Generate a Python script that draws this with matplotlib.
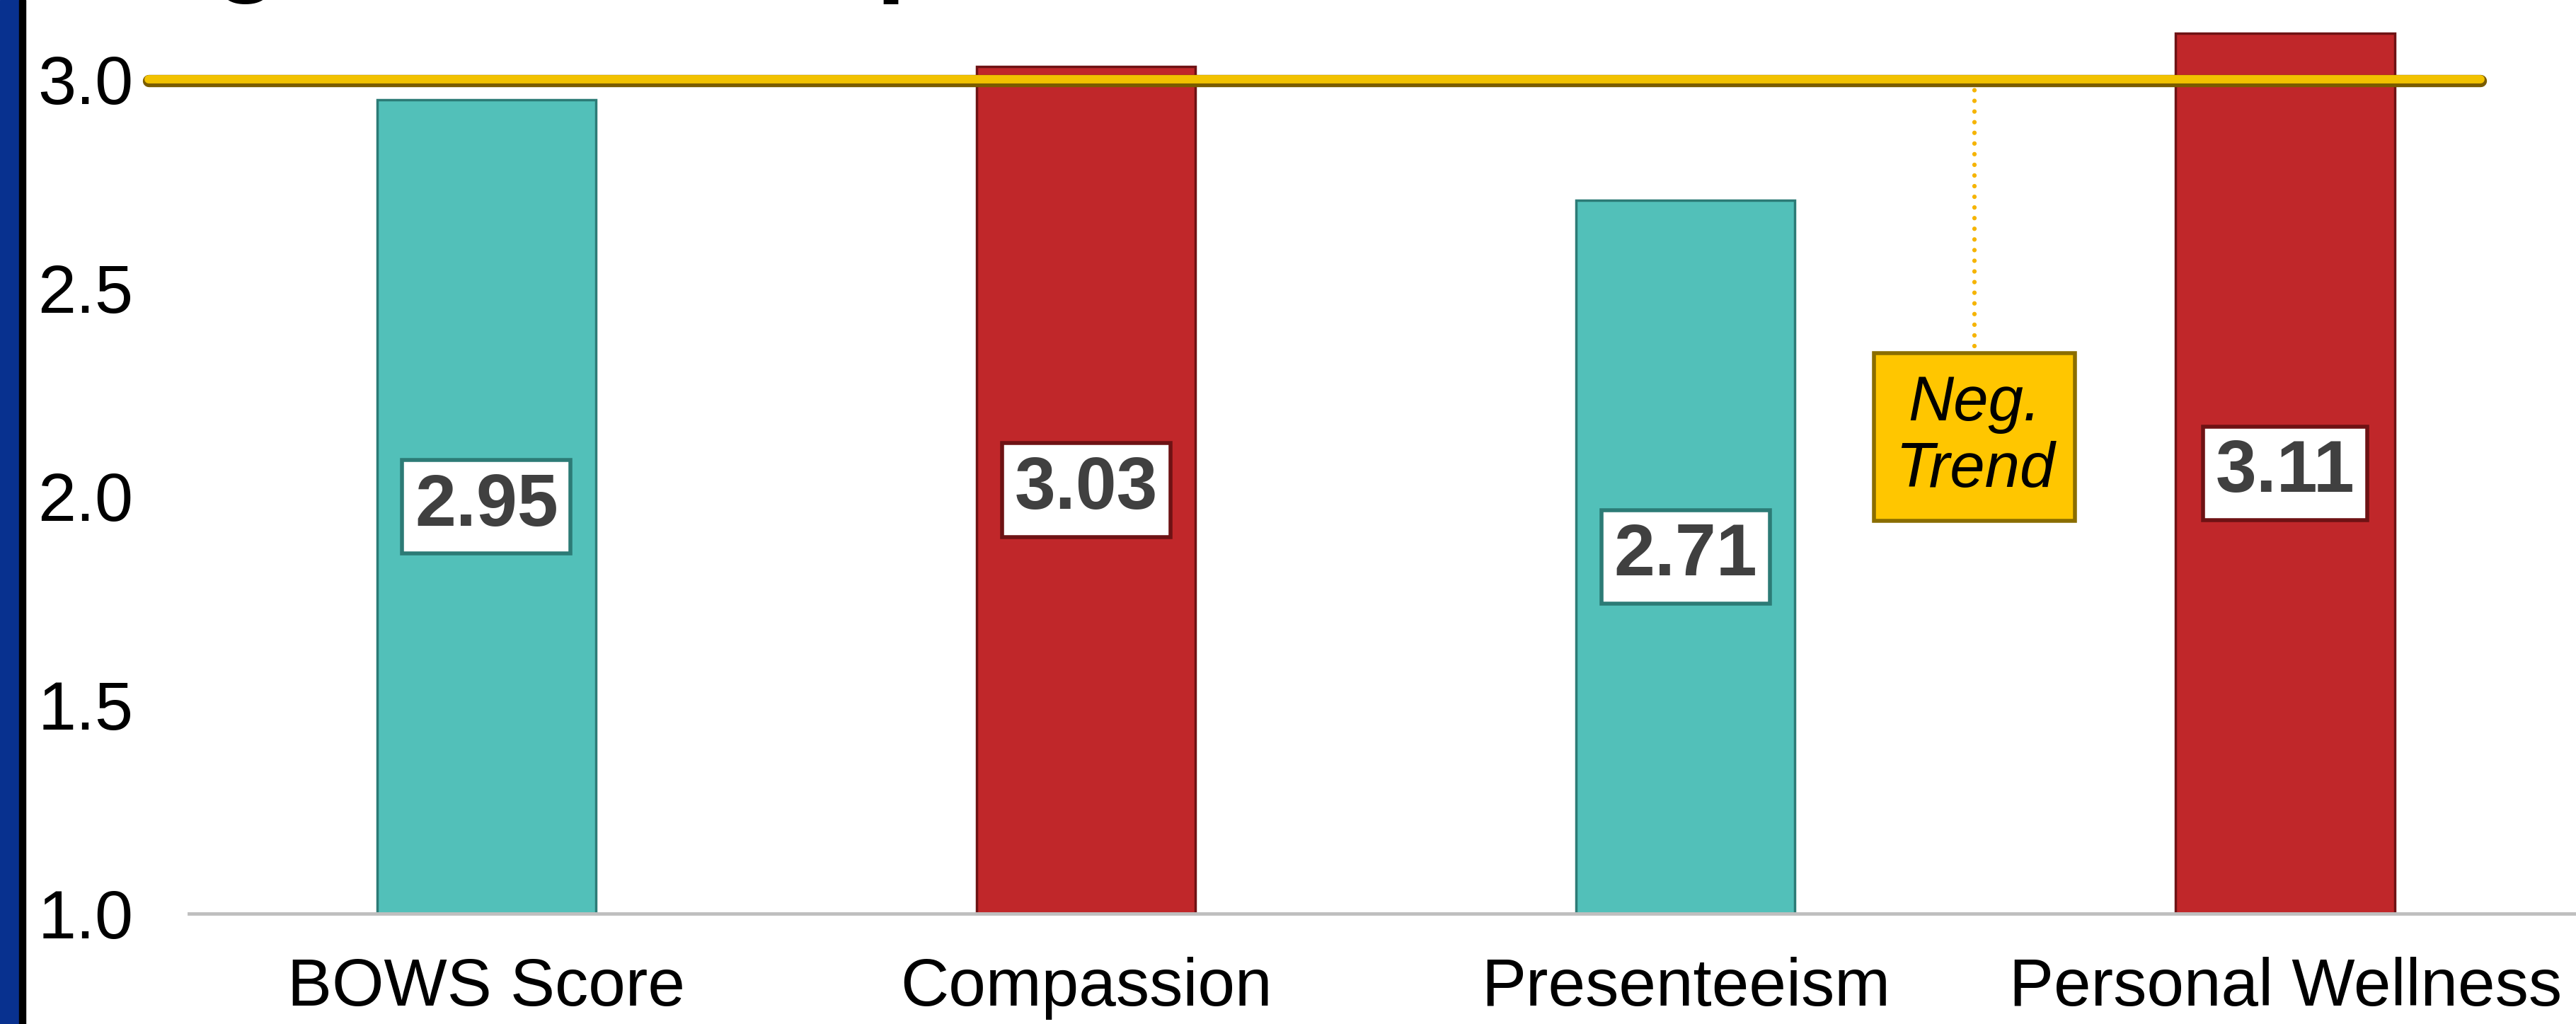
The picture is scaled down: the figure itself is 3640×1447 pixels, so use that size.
import numpy as np
import matplotlib
matplotlib.use('Agg')
import matplotlib.pyplot as plt
import matplotlib.patheffects as pe
from matplotlib.patches import Rectangle

#%% data
categories = ['BOWS Score', 'Compassion', 'Presenteeism', 'Personal Wellness']
scores = [2.95, 3.03, 2.71, 3.11]
bar_colors = ['#52C0B9', '#C0272A', '#52C0B9', '#C0272A']
edge_colors = ['#2C7B76', '#6E1214', '#2C7B76', '#6E1214']
y_ticks = [1.0, 1.5, 2.0, 2.5, 3.0]
benchmark = 3.0
trend_text = 'Neg.\nTrend'
trend_pos = (2.482, 2.142)   # where the callout sits (x, y in data units)

plt.rcParams['font.family'] = ['Liberation Sans', 'DejaVu Sans']

#%% figure
fig = plt.figure(figsize=(36.4, 14.47), dpi=100)
ax = fig.add_axes([0.0734, 0.108, 0.9266, 0.892])

x = np.arange(len(categories))
bars = ax.bar(x, np.array(scores) - 1.0, bottom=1.0, width=0.365,
              color=bar_colors, edgecolor=edge_colors, linewidth=2.5, zorder=2)

# value labels, centred in each bar
for i in range(len(scores)):
    ax.text(x[i], (1.0 + scores[i]) / 2, '%.2f' % scores[i],
            ha='center', va='center', fontsize=75, fontweight='bold',
            color='#404040', zorder=5,
            bbox=dict(boxstyle='square,pad=0.17', facecolor='white',
                      edgecolor=edge_colors[i], linewidth=4))

# benchmark line at 3.0
ax.plot([-0.564, 3.326], [benchmark, benchmark], color='#F2C200', lw=8.5,
        solid_capstyle='round', zorder=4, clip_on=False,
        path_effects=[pe.Stroke(linewidth=12.5, foreground='#7A5C00', offset=(0, -1.5)),
                      pe.Normal()])

# negative trend callout
ax.plot([trend_pos[0], trend_pos[0]], [2.36, benchmark], color='#F5B400',
        lw=4.5, linestyle=(0, (0.01, 2.4)), dash_capstyle='round', zorder=3)
ax.text(trend_pos[0], trend_pos[1], trend_text, ha='center', va='center',
        fontsize=64, style='italic', color='black', linespacing=1.15, zorder=5,
        bbox=dict(boxstyle='square,pad=0.33', facecolor='#FFC600',
                  edgecolor='#8A6D00', linewidth=4))

ax.set_xlim(-0.496, 3.485)
ax.set_ylim(1.0, 3.19)
ax.set_xticks(x)
ax.set_xticklabels(categories, fontsize=68)
ax.set_yticks(y_ticks)
ax.set_yticklabels(['%.1f' % v for v in y_ticks], fontsize=70)
ax.tick_params(axis='y', length=0, pad=154)
ax.tick_params(axis='x', length=0, pad=44)
for lab in ax.get_yticklabels():
    lab.set_horizontalalignment('left')

for s in ['top', 'right', 'left']:
    ax.spines[s].set_visible(False)
ax.spines['bottom'].set_color('#BFBFBF')
ax.spines['bottom'].set_linewidth(3.5)
ax.patch.set_alpha(0)

# slide title sits above the top edge, only its descenders show
fig.text(0.0957, 1.018, 'g', ha='center', va='baseline', fontsize=110,
         fontweight='bold', color='black')
fig.text(0.340, 1.018, 'p', ha='left', va='baseline', fontsize=110,
         fontweight='bold', color='black')

# slide edge on the left
fig.patches.append(Rectangle((0, 0), 0.0074, 1, transform=fig.transFigure,
                             color='#08318F', zorder=10))
fig.patches.append(Rectangle((0.0074, 0), 0.0025, 1, transform=fig.transFigure,
                             color='black', zorder=10))

fig.savefig('out.png', dpi=100)
